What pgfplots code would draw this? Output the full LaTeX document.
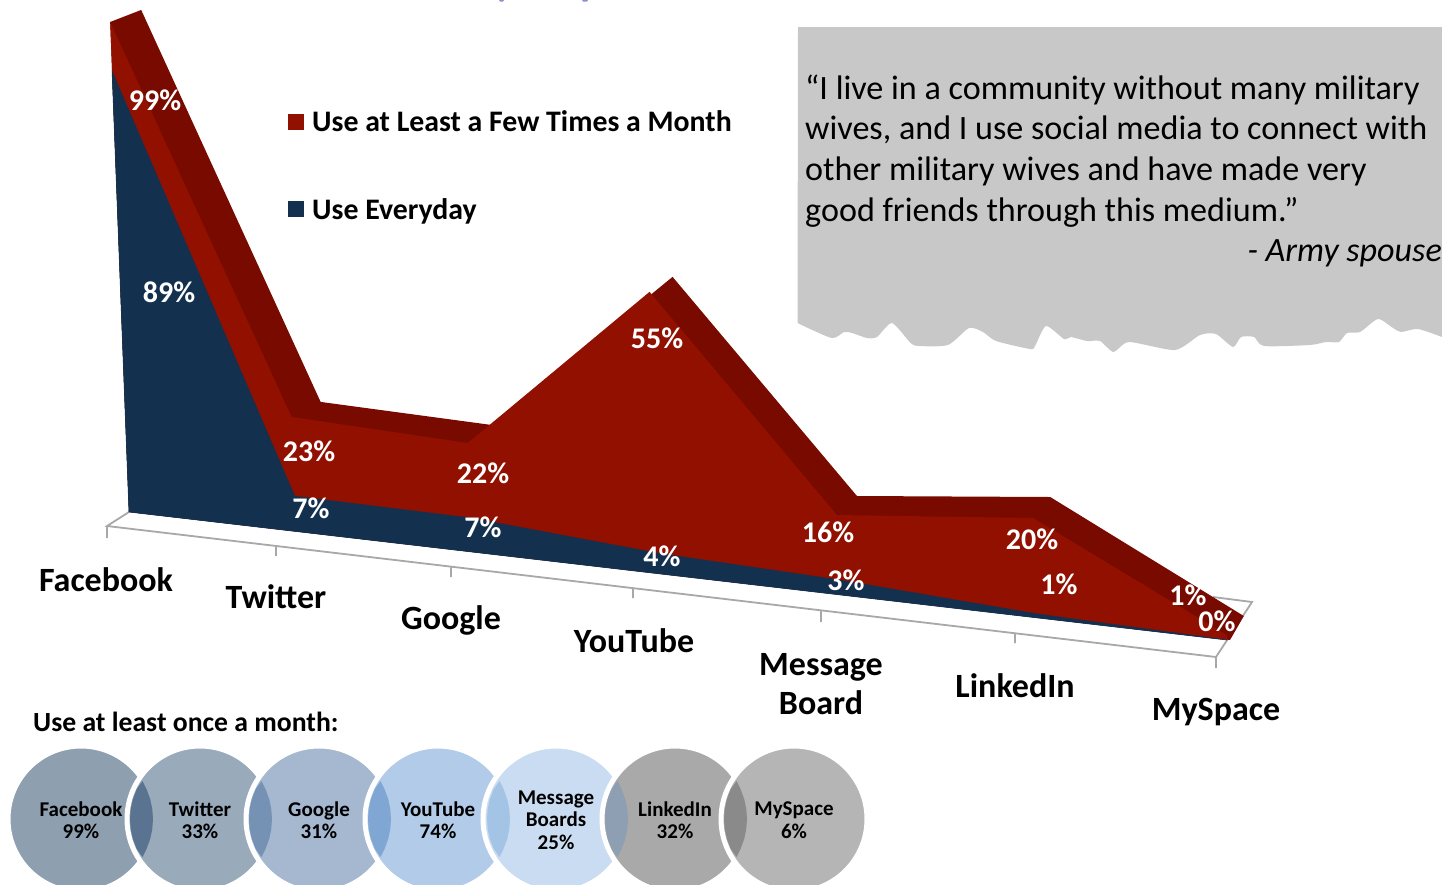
\documentclass[border=0pt]{standalone}
\usepackage{fontspec}
\setmainfont{Carlito}
\usepackage{pgfplots}
\usepackage{pgfplotstable}
\pgfplotsset{compat=1.18}

\definecolor{monthlyfront}{HTML}{911000}
\definecolor{monthlyback}{HTML}{780A00}
\definecolor{everydaynavy}{HTML}{13304F}
\definecolor{floorgrey}{HTML}{A8A8A8}
\definecolor{quotegrey}{HTML}{C8C8C8}
\definecolor{titleblue}{HTML}{8A8FD0}
\definecolor{disca}{HTML}{8E9FB0}
\definecolor{discb}{HTML}{99AABB}
\definecolor{discc}{HTML}{A5B8D0}
\definecolor{discd}{HTML}{B2CBE9}
\definecolor{disce}{HTML}{CADCF1}
\definecolor{discf}{HTML}{A9A9A9}
\definecolor{discg}{HTML}{B5B5B5}
\definecolor{lensa}{HTML}{5A7391}
\definecolor{lensb}{HTML}{7592B5}
\definecolor{lensc}{HTML}{80A6D3}
\definecolor{lensd}{HTML}{A4C4E6}
\definecolor{lense}{HTML}{8E9FB3}
\definecolor{lensf}{HTML}{8A8A8A}

% Social media use by platform. basex/basey locate each category on the floor
% of the receding chart, unit is pixels per percentage point there, and
% depthx/depthy give the offset from the front face to the back face.
% The last three rows return along the floor to close the polygons.
\pgfplotstableread{
cat      basex basey unit depthx depthy monthly everyday
Facebook 129   512   4.95 31     -12    99      89
Twitter  296   531   4.96 29     -15    23      7
Google   472   553   5.00 24     -18    22      7
YouTube  660   574   5.13 23     -15    55      4
Message  840   595   5.00 20     -19    16      3
LinkedIn 1037  619   5.05 17     -21    20      1
MySpace  1227  640   5.00 17     -19    1       0
MySpace  1227  640   5.00 3      0      0       0
Facebook 129   512   4.95 0      0      0       0
Facebook 129   512   4.95 0      0      99      0
}\usedata

% Outline of the overlap between two neighbouring discs, relative to the left disc.
\pgfplotstableread{
x     y
61.5  -38
65.5  -30
69.2  -20
71.3  -10
72.0  0
71.3  10
69.2  20
65.5  30
61.5  38
55.8  30
51.9  20
49.7  10
49.0  0
49.7  -10
51.9  -20
55.8  -30
}\lens

\newcommand{\catlabel}{\fontsize{34}{39}\selectfont\bfseries}
\newcommand{\vallabel}{\fontsize{30}{33}\selectfont\bfseries\color{white}}
\newcommand{\disclabel}{\fontsize{21}{22.5}\selectfont\bfseries}
\newcommand{\quotefont}{\fontsize{34.1}{40}\selectfont}

\begin{document}
\begin{tikzpicture}
\path[use as bounding box] (0,0) rectangle (1442pt,884pt);
\begin{axis}[
  at={(0,0)}, anchor=south west,
  scale only axis, width=1442pt, height=884pt,
  xmin=0, xmax=1442, ymin=0, ymax=884, y dir=reverse,
  hide axis, clip=true, clip marker paths=true,
  unbounded coords=jump,
  legend image code/.code={\fill[#1] (0pt,-8pt) rectangle (16pt,8pt);},
  legend style={at={(288/1442,1-108.5/884)}, anchor=north west, draw=none, fill=none,
    inner sep=0pt, row sep=61pt, font=\fontsize{29.8}{32}\selectfont\bfseries,
    /tikz/every odd column/.append style={column sep=6pt}},
  legend cell align=left,
]
\addlegendimage{fill=monthlyfront, draw=none}
\addlegendentry{Use at Least a Few Times a Month}
\addlegendimage{fill=everydaynavy, draw=none}
\addlegendentry{Use Everyday}

% Descenders of the heading that runs off the top edge
\addplot[fill=titleblue, draw=none, forget plot] coordinates {(499,0) (504,0) (503,1.5) (500,1.5)} -- cycle;
\addplot[fill=titleblue, draw=none, forget plot] coordinates {(582,0) (588,0) (587,1.5) (583,1.5)} -- cycle;

% Callout with a torn lower edge
\addplot[fill=quotegrey, draw=none, forget plot, smooth, tension=0.4] coordinates {
  (797.5,323) (831.6,338) (844,332) (852,333) (867,338) (877,337) (892,323)
  (910.6,343) (919,346) (948,345) (969,328) (983,332) (996,341) (1030,349) (1035,346)
  (1046,326) (1064,339) (1071,337) (1087,341) (1100,341) (1113.5,352) (1129,342) (1175,350)
  (1200,335) (1216,334) (1233,347) (1241,337) (1254,337) (1264,346) (1310,345) (1326,342)
  (1339,342) (1347,333) (1360,332) (1378,319) (1393,328) (1401,332) (1418,329) (1442,337)
} -- (axis cs:1442,27) -- (axis cs:798,27) -- cycle;

% Chart floor and tick marks
\addplot[draw=floorgrey, line width=1.8pt, forget plot] coordinates {
  (129,512) (107,526) (1216,657) (1252,602) (1213,597)
  (nan,nan)
  (107,526) (107,538)
  (nan,nan)
  (276,546) (276,556)
  (nan,nan)
  (451,567) (451,577)
  (nan,nan)
  (633,588) (633,598)
  (nan,nan)
  (821,610) (821,622)
  (nan,nan)
  (1015,633) (1015,643)
  (nan,nan)
  (1216,657) (1216,668)
};

% Back face, front face and the everyday series in front of them
\addplot[fill=monthlyback, draw=none, forget plot] table[
  x expr=\thisrow{basex}-0.19*\thisrow{monthly}+\thisrow{depthx},
  y expr=\thisrow{basey}-\thisrow{unit}*\thisrow{monthly}+\thisrow{depthy}] {\usedata} -- cycle;
\addplot[fill=monthlyfront, draw=none, forget plot] table[
  x expr=\thisrow{basex}-0.19*\thisrow{monthly},
  y expr=\thisrow{basey}-\thisrow{unit}*\thisrow{monthly}] {\usedata} -- cycle;
\addplot[fill=everydaynavy, draw=everydaynavy, line width=0.6pt, forget plot] table[
  x expr=\thisrow{basex}-0.19*\thisrow{everyday},
  y expr=\thisrow{basey}-\thisrow{unit}*\thisrow{everyday}] {\usedata} -- cycle;

% Discs for monthly use, left to right
\addplot[only marks, mark=*, mark size=73, forget plot, mark options={fill=disca, draw=white, line width=5pt}] coordinates {(81,819)};
\addplot[only marks, mark=*, mark size=73, forget plot, mark options={fill=discb, draw=white, line width=5pt}] coordinates {(200,819)};
\addplot[fill=lensa, draw=none, forget plot] table[x expr=\thisrow{x}+81, y expr=\thisrow{y}+819] {\lens} -- cycle;
\addplot[only marks, mark=*, mark size=73, forget plot, mark options={fill=discc, draw=white, line width=5pt}] coordinates {(319,819)};
\addplot[fill=lensb, draw=none, forget plot] table[x expr=\thisrow{x}+200, y expr=\thisrow{y}+819] {\lens} -- cycle;
\addplot[only marks, mark=*, mark size=73, forget plot, mark options={fill=discd, draw=white, line width=5pt}] coordinates {(438,819)};
\addplot[fill=lensc, draw=none, forget plot] table[x expr=\thisrow{x}+319, y expr=\thisrow{y}+819] {\lens} -- cycle;
\addplot[only marks, mark=*, mark size=73, forget plot, mark options={fill=disce, draw=white, line width=5pt}] coordinates {(556,819)};
\addplot[fill=lensd, draw=none, forget plot] table[x expr=\thisrow{x}+438, y expr=\thisrow{y}+819] {\lens} -- cycle;
\addplot[only marks, mark=*, mark size=73, forget plot, mark options={fill=discf, draw=white, line width=5pt}] coordinates {(675,819)};
\addplot[fill=lense, draw=none, forget plot] table[x expr=\thisrow{x}+556, y expr=\thisrow{y}+819] {\lens} -- cycle;
\addplot[only marks, mark=*, mark size=73, forget plot, mark options={fill=discg, draw=white, line width=5pt}] coordinates {(794,819)};
\addplot[fill=lensf, draw=none, forget plot] table[x expr=\thisrow{x}+675, y expr=\thisrow{y}+819] {\lens} -- cycle;

% Value labels on the areas
\node[font=\vallabel] at (axis cs:155,100) {99\%};
\node[font=\vallabel] at (axis cs:169,292) {89\%};
\node[font=\vallabel] at (axis cs:309,451) {23\%};
\node[font=\vallabel] at (axis cs:483,473) {22\%};
\node[font=\vallabel] at (axis cs:657,338) {55\%};
\node[font=\vallabel] at (axis cs:828,532) {16\%};
\node[font=\vallabel] at (axis cs:1032,539) {20\%};
\node[font=\vallabel] at (axis cs:1188,595) {1\%};
\node[font=\vallabel] at (axis cs:311,508) {7\%};
\node[font=\vallabel] at (axis cs:483,527) {7\%};
\node[font=\vallabel] at (axis cs:662,556) {4\%};
\node[font=\vallabel] at (axis cs:846,580) {3\%};
\node[font=\vallabel] at (axis cs:1059,584) {1\%};
\node[font=\vallabel] at (axis cs:1217,621) {0\%};

% Category names along the floor
\node[font=\catlabel] at (axis cs:106,580) {Facebook};
\node[font=\catlabel] at (axis cs:276,597) {Twitter};
\node[font=\catlabel] at (axis cs:451,620) {Google};
\node[font=\catlabel] at (axis cs:634,641) {YouTube};
\node[font=\catlabel, align=center] at (axis cs:821,684) {Message\\Board};
\node[font=\catlabel] at (axis cs:1015,686) {LinkedIn};
\node[font=\catlabel] at (axis cs:1216,712) {MySpace};

% Quotation
\node[font=\quotefont, anchor=west, inner sep=0pt] at (axis cs:805,90) {“I live in a community without many military};
\node[font=\quotefont, anchor=west, inner sep=0pt] at (axis cs:805,130) {wives, and I use social media to connect with};
\node[font=\quotefont, anchor=west, inner sep=0pt] at (axis cs:805,171) {other military wives and have made very};
\node[font=\quotefont, anchor=west, inner sep=0pt] at (axis cs:805,212) {good friends through this medium.”};
\node[font=\quotefont\itshape, anchor=east, inner sep=0pt] at (axis cs:1442,253) {- Army spouse};

% Disc captions
\node[font=\fontsize{27.7}{30}\selectfont\bfseries, anchor=west, inner sep=0pt] at (axis cs:33,722) {Use at least once a month:};
\node[font=\disclabel, align=center] at (axis cs:81,820) {Facebook\\99\%};
\node[font=\disclabel, align=center] at (axis cs:200,820) {Twitter\\33\%};
\node[font=\disclabel, align=center] at (axis cs:319,820) {Google\\31\%};
\node[font=\disclabel, align=center] at (axis cs:438,820) {YouTube\\74\%};
\node[font=\disclabel, align=center] at (axis cs:556,820) {Message\\Boards\\25\%};
\node[font=\disclabel, align=center] at (axis cs:675,820) {LinkedIn\\32\%};
\node[font=\disclabel, align=center] at (axis cs:794,820) {MySpace\\6\%};
\end{axis}
\end{tikzpicture}
\end{document}
